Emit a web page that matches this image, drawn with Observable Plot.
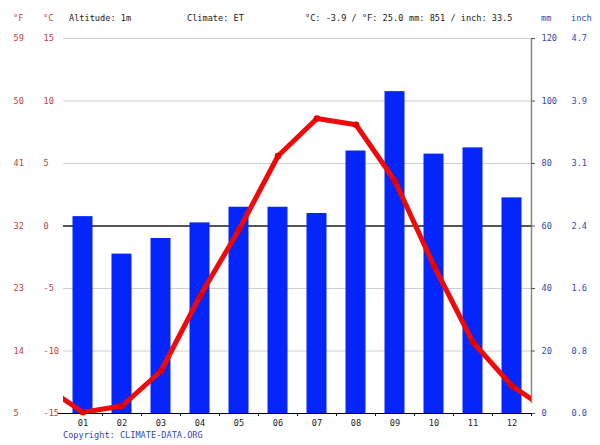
<!DOCTYPE html>
<html>
<head>
<meta charset="utf-8">
<script src="https://cdn.jsdelivr.net/npm/d3@7"></script>
<script src="https://cdn.jsdelivr.net/npm/@observablehq/plot@0.6"></script>
<style>
  html, body { margin: 0; padding: 0; background: #fff; overflow: hidden; }
  svg { display: block; }
</style>
</head>
<body>
<div id="chart"></div>
<script>
// ---- data ----
const months = [1, 2, 3, 4, 5, 6, 7, 8, 9, 10, 11, 12];
const monthLabels = ["01", "02", "03", "04", "05", "06", "07", "08", "09", "10", "11", "12"];
const tempC = [-14.9, -14.4, -11.6, -5.6, -0.3, 5.6, 8.6, 8.1, 3.6, -3.2, -9.3, -12.8];
const precipMm = [63, 51, 56, 61, 66, 66, 64, 84, 103, 83, 85, 69];
const tickC = [-15, -10, -5, 0, 5, 10, 15];
const tickF = ["5", "14", "23", "32", "41", "50", "59"];
const tickMm = [0, 20, 40, 60, 80, 100, 120];
const tickInch = ["0.0", "0.8", "1.6", "2.4", "3.1", "3.9", "4.7"];
const header = {
  altitude: "Altitude: 1m",
  climate: "Climate: ET",
  temp: "°C: -3.9 / °F: 25.0",
  precip: "mm: 851 / inch: 33.5",
  copyright: "Copyright: CLIMATE-DATA.ORG"
};

// precipitation is drawn on the °C scale: 0 mm -> -15 °C, 120 mm -> 15 °C
const mmToC = (mm) => mm / 4 - 15;

const bars = months.map((m, i) => ({m, mm: precipMm[i]}));
const temps = months.map((m, i) => ({m, t: tempC[i]}));
// wrap-around so the line runs off both edges (Dec before Jan, Jan after Dec)
const tempsWrapped = [{m: 0, t: tempC[11]}, ...temps, {m: 13, t: tempC[0]}];

const RED = "#c63c3c";
const BLUE = "#3347b5";
const FONT = "DejaVu Sans Mono, monospace";
const FS = 8.6;

const chart = Plot.plot({
  width: 600,
  height: 445,
  marginTop: 38,
  marginBottom: 32,
  marginLeft: 63,
  marginRight: 69,
  style: {fontFamily: FONT, fontSize: FS + "px", background: "#fff", overflow: "visible"},
  x: {type: "linear", domain: [0.5, 12.5], axis: null, label: null},
  y: {domain: [-15, 15], axis: null, label: null},
  marks: [
    // grid
    Plot.ruleY(tickC.filter(d => d !== 0 && d !== -15), {stroke: "#cfcfcf", strokeWidth: 1}),
    // zero line
    Plot.ruleY([0], {stroke: "#555", strokeWidth: 2}),
    // precipitation bars
    Plot.rectY(bars, {
      x1: d => d.m - 0.5, x2: d => d.m + 0.5,
      y1: -15, y2: d => mmToC(d.mm),
      fill: "#0526fa", insetLeft: 9.5, insetRight: 9.5
    }),
    // right axis line
    Plot.ruleX([12.5], {y1: -15, y2: 15, stroke: "#888", strokeWidth: 1.5, insetTop: -10}),
    // right axis ticks
    Plot.ruleY(tickMm, {y: d => mmToC(d), x1: 12.5, x2: 12.5, insetRight: -4, stroke: "#555"}),
    // bottom axis line
    Plot.ruleY([-15], {stroke: "#000", strokeWidth: 1.2, insetLeft: -5}),
    // month separator ticks
    Plot.axisX({ticks: d3.range(1.5, 12.5, 1).concat([12.5]), tickSize: 3, tickFormat: () => "", stroke: "#000", label: null}),
    // month labels
    Plot.axisX({ticks: months, tickSize: 0, tickPadding: 6, tickFormat: (d) => monthLabels[d - 1], fill: "#222", fontSize: FS, label: null}),
    // temperature line
    Plot.line(tempsWrapped, {x: "m", y: "t", stroke: "#ee0a0a", strokeWidth: 5, clip: true}),
    Plot.dot(temps, {x: "m", y: "t", r: 3.3, fill: "#e00000"}),
    // left axis labels
    Plot.text(tickC, {y: d => d, text: d => String(d), frameAnchor: "left", dx: -20, textAnchor: "start", fill: RED}),
    Plot.text(tickC, {y: d => d, text: (d, i) => tickF[i], frameAnchor: "left", dx: -50, textAnchor: "start", fill: RED}),
    // right axis labels
    Plot.text(tickMm, {y: d => mmToC(d), text: d => String(d), frameAnchor: "right", dx: 10, textAnchor: "start", fill: BLUE}),
    Plot.text(tickMm, {y: d => mmToC(d), text: (d, i) => tickInch[i], frameAnchor: "right", dx: 40, textAnchor: "start", fill: BLUE})
  ]
});

// header & footer texts
const svg = d3.select(chart);
const addText = (x, y, txt, fill) => svg.append("text")
  .attr("x", x).attr("y", y).attr("dy", "0.32em")
  .attr("text-anchor", "start")
  .attr("fill", fill).attr("font-family", FONT).attr("font-size", FS)
  .text(txt);
addText(13, 18, "°F", RED);
addText(43, 18, "°C", RED);
addText(69, 18, header.altitude, "#222");
addText(187, 18, header.climate, "#222");
addText(305, 18, header.temp, "#222");
addText(409, 18, header.precip, "#222");
addText(541, 18, "mm", BLUE);
addText(571, 18, "inch", BLUE);
addText(63, 435, header.copyright, BLUE);

document.getElementById("chart").appendChild(chart);
</script>
</body>
</html>
